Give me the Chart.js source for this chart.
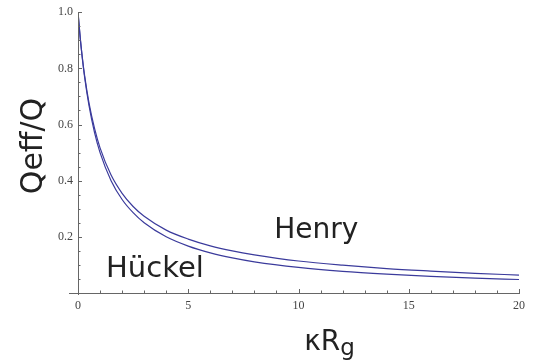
<!DOCTYPE html>
<html>
<head>
<meta charset="utf-8">
<script src="https://cdn.jsdelivr.net/npm/chart.js@4/dist/chart.umd.min.js"></script>
<style>
  html, body { margin: 0; padding: 0; background: #ffffff; }
  #wrap { width: 536px; height: 362px; position: relative; }
</style>
</head>
<body>
<div id="wrap"><canvas id="c" width="536" height="362"></canvas></div>
<script>
// ---- data ----
const kappaRg = [0, 0.1, 0.2, 0.3, 0.5, 0.75, 1, 1.5, 2, 2.5, 3, 4, 5, 6, 7, 8, 10, 12, 14, 16, 18, 20];
const henry   = [1.0, 0.909, 0.836, 0.774, 0.676, 0.586, 0.517, 0.420, 0.355, 0.308, 0.273, 0.224, 0.192, 0.168, 0.150, 0.136, 0.114, 0.099, 0.087, 0.078, 0.070, 0.064];
const huckel  = [1.0, 0.909, 0.833, 0.769, 0.667, 0.571, 0.500, 0.400, 0.333, 0.286, 0.250, 0.200, 0.167, 0.143, 0.125, 0.111, 0.091, 0.077, 0.067, 0.059, 0.053, 0.048];
const seriesNames = ["Henry", "Hückel"];
const xTicks = [0, 5, 10, 15, 20];
const yTicks = [0.2, 0.4, 0.6, 0.8, 1.0];
const xTitle = "κR";
const xTitleSub = "g";
const yTitle = "Qeff/Q";

const lineColor = "#3b3b9c";
const axisColor = "#666666";
const bigFont = '"DejaVu Sans", sans-serif';

const toPts = (ys) => kappaRg.map((x, i) => ({ x: x, y: ys[i] }));

const decor = {
  id: 'decor',
  afterDraw(chart) {
    const ctx = chart.ctx;
    const xs = chart.scales.x, ys = chart.scales.y;
    const x0 = xs.getPixelForValue(0), y0 = ys.getPixelForValue(0);
    ctx.save();
    ctx.strokeStyle = axisColor;
    ctx.lineWidth = 1;
    // axes
    ctx.beginPath();
    ctx.moveTo(x0 - 9, Math.round(y0) + 0.5);
    ctx.lineTo(xs.right + 1, Math.round(y0) + 0.5);
    ctx.moveTo(Math.round(x0) + 0.5, ys.top);
    ctx.lineTo(Math.round(x0) + 0.5, y0 + 2);
    ctx.stroke();
    // x ticks (major every 5, minor every 1)
    ctx.beginPath();
    for (let v = 1; v <= 20; v++) {
      const px = Math.round(xs.getPixelForValue(v)) + 0.5;
      const len = (v % 5 === 0) ? 4 : 2.5;
      ctx.moveTo(px, y0);
      ctx.lineTo(px, y0 - len);
    }
    // y ticks (major every 0.2, minor every 0.05)
    for (let k = 1; k <= 20; k++) {
      const v = k * 0.05;
      const py = Math.round(ys.getPixelForValue(v)) + 0.5;
      const len = (k % 4 === 0) ? 4 : 2.5;
      ctx.moveTo(x0, py);
      ctx.lineTo(x0 + len, py);
    }
    ctx.stroke();

    // series labels
    ctx.fillStyle = "#222222";
    ctx.textBaseline = 'alphabetic';
    ctx.textAlign = 'left';
    ctx.font = '28px ' + bigFont;
    ctx.fillText(seriesNames[0], xs.getPixelForValue(8.9), ys.getPixelForValue(0.195));
    ctx.font = '29px ' + bigFont;
    ctx.fillText(seriesNames[1], xs.getPixelForValue(1.27), ys.getPixelForValue(0.056));

    // x title with subscript
    ctx.font = '28px ' + bigFont;
    const w = ctx.measureText(xTitle).width;
    ctx.font = '23px ' + bigFont;
    const ws = ctx.measureText(xTitleSub).width;
    const cx = (xs.left + xs.right) / 2 + 31;
    const startX = cx - (w + ws) / 2;
    ctx.font = '28px ' + bigFont;
    ctx.fillText(xTitle, startX, 350);
    ctx.font = '23px ' + bigFont;
    ctx.fillText(xTitleSub, startX + w, 355);

    // y title rotated
    ctx.translate(42, 146);
    ctx.rotate(-Math.PI / 2);
    ctx.font = '30px ' + bigFont;
    ctx.textAlign = 'center';
    ctx.fillText(yTitle, 0, 0);
    ctx.restore();
  }
};

new Chart(document.getElementById('c'), {
  type: 'line',
  data: {
    datasets: [
      { label: seriesNames[0], data: toPts(henry), borderColor: lineColor, borderWidth: 1.2, pointRadius: 0, fill: false, cubicInterpolationMode: 'monotone' },
      { label: seriesNames[1], data: toPts(huckel), borderColor: lineColor, borderWidth: 1.2, pointRadius: 0, fill: false, cubicInterpolationMode: 'monotone' }
    ]
  },
  options: {
    responsive: false,
    animation: false,
    events: [],
    layout: { padding: { top: 10, right: 17, left: 0, bottom: 0 } },
    plugins: { legend: { display: false }, tooltip: { enabled: false } },
    scales: {
      x: {
        type: 'linear', min: 0, max: 20,
        grid: { display: false, drawTicks: false },
        border: { display: false },
        afterBuildTicks: (s) => { s.ticks = xTicks.map(v => ({ value: v })); },
        afterFit: (s) => { s.height = 69; },
        ticks: {
          padding: 6, color: '#444444',
          font: { family: '"Liberation Serif", serif', size: 12 },
          maxRotation: 0,
          callback: (v) => String(v)
        }
      },
      y: {
        type: 'linear', min: 0, max: 1.0,
        grid: { display: false, drawTicks: false },
        border: { display: false },
        afterBuildTicks: (s) => { s.ticks = yTicks.map(v => ({ value: v })); },
        afterFit: (s) => { s.width = 78; },
        ticks: {
          padding: 5, color: '#444444',
          font: { family: '"Liberation Serif", serif', size: 12 },
          callback: (v) => Number(v).toFixed(1)
        }
      }
    }
  },
  plugins: [decor]
});
</script>
</body>
</html>
